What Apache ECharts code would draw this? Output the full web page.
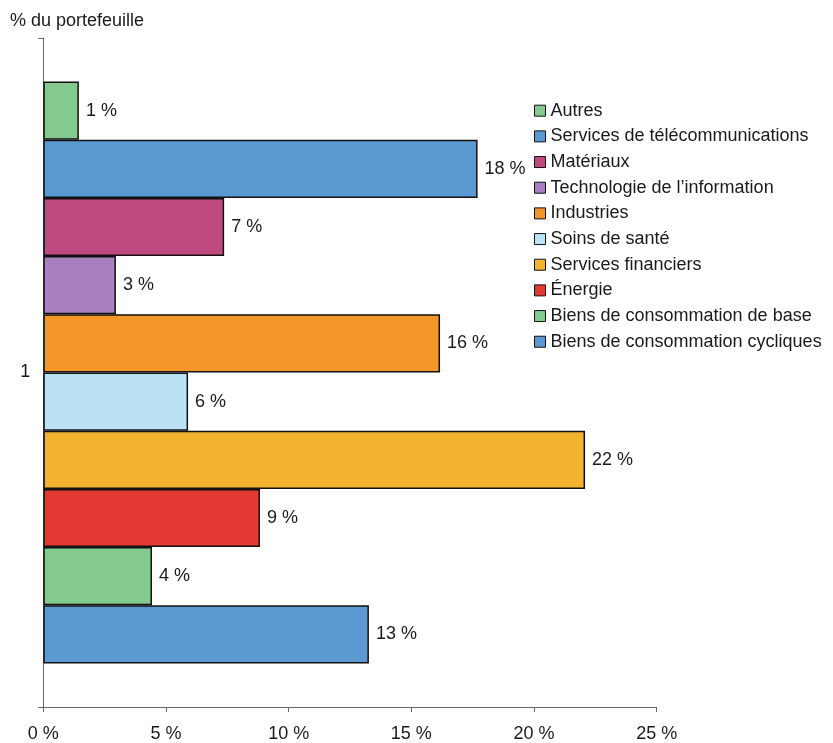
<!DOCTYPE html>
<html>
<head>
<meta charset="utf-8">
<script src="https://cdn.jsdelivr.net/npm/echarts@6/dist/echarts.min.js"></script>
<style>
html,body{margin:0;padding:0;background:#fff;}
#c{width:833px;height:743px;}
</style>
</head>
<body>
<div id="c"></div>
<script>
// Data (top bar first)
const categories = ['1'];
const seriesNames = [
  'Autres',
  'Services de télécommunications',
  'Matériaux',
  'Technologie de l’information',
  'Industries',
  'Soins de santé',
  'Services financiers',
  'Énergie',
  'Biens de consommation de base',
  'Biens de consommation cycliques'
];
const seriesValues = [1.45, 17.7, 7.37, 2.96, 16.17, 5.9, 22.08, 8.83, 4.43, 13.27];
const seriesColors = ['#84CA8F', '#5B9AD0', '#BE4A7F', '#A880BE', '#F4962A', '#BBE2F4', '#F2B42E', '#E43834', '#84CA8F', '#5B9AD0'];
const xTicks = [0, 5, 10, 15, 20, 25];

const font = 'Liberation Sans, Arial, sans-serif';
const chart = echarts.init(document.getElementById('c'));
const series = seriesNames.map((name, i) => ({
  name: name,
  type: 'bar',
  data: [seriesValues[i]],
  barGap: 0,
  barCategoryGap: '13%',
  itemStyle: { color: seriesColors[i], borderColor: '#111', borderWidth: 1.5 },
  label: {
    show: true, position: 'right', distance: 7,
    color: '#1a1a1a', fontSize: 18, fontFamily: font,
    formatter: p => Math.round(p.value) + ' %'
  },
  emphasis: { disabled: true }
}));

chart.setOption({
  animation: false,
  backgroundColor: '#fff',
  title: {
    text: '% du portefeuille', left: 10, top: 12, padding: 0,
    textStyle: { fontSize: 18, fontWeight: 'normal', color: '#1a1a1a', fontFamily: font }
  },
  legend: {
    data: seriesNames,
    orient: 'vertical', left: 534, top: 100.7, padding: 0,
    itemWidth: 11, itemHeight: 11, itemGap: 5.67,
    icon: 'rect',
    itemStyle: { borderColor: '#111', borderWidth: 1 },
    textStyle: { fontSize: 18, lineHeight: 20, color: '#1a1a1a', fontFamily: font },
    selectedMode: false
  },
  grid: { left: 43.3, right: 176.3, top: 38, bottom: 36 },
  xAxis: {
    type: 'value', min: xTicks[0], max: xTicks[xTicks.length - 1], interval: 5,
    splitLine: { show: false },
    axisLine: { show: true, lineStyle: { color: '#666', width: 1 } },
    axisTick: { show: true, length: 5, lineStyle: { color: '#666' } },
    axisLabel: { fontSize: 18, color: '#1a1a1a', fontFamily: font, margin: 18, formatter: v => v + ' %' }
  },
  yAxis: {
    type: 'category', data: categories,
    axisLine: { show: true, lineStyle: { color: '#666', width: 1 } },
    axisTick: { show: true, length: 5, lineStyle: { color: '#666' } },
    axisLabel: { fontSize: 18, color: '#1a1a1a', fontFamily: font, margin: 13 }
  },
  series: series
});
</script>
</body>
</html>
